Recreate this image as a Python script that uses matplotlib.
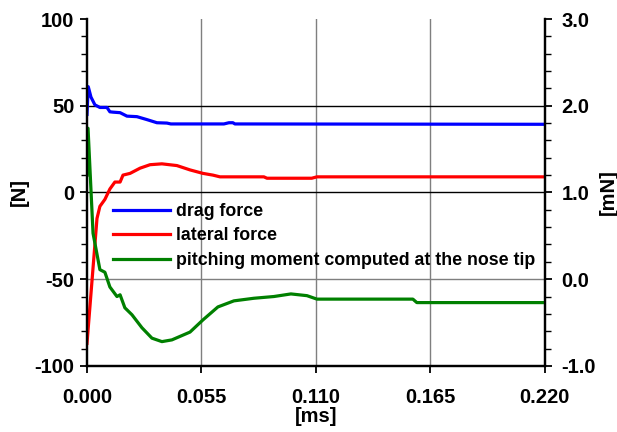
import matplotlib
matplotlib.use("Agg")
import matplotlib.pyplot as plt
from matplotlib.ticker import MultipleLocator, FormatStrFormatter

plt.rcParams['font.family'] = ['Liberation Sans', 'DejaVu Sans']
plt.rcParams['font.weight'] = 'bold'
plt.rcParams['axes.unicode_minus'] = False

# ---- data (time in ms) ----
drag_t = [0.0, 0.0006, 0.0019, 0.0038, 0.0062, 0.0096, 0.011, 0.0125, 0.0159, 0.0192,
          0.024, 0.0288, 0.0336, 0.0384, 0.0403, 0.0658, 0.0682, 0.0701, 0.0711, 0.22]
drag_v = [45, 61, 55, 50.5, 49, 49, 46.5, 46.3, 46, 44, 43.7, 42, 40.2, 40, 39.5, 39.5,
          40.2, 40.2, 39.5, 39.3]

lat_t = [0.0, 0.0048, 0.0062, 0.0086, 0.011, 0.0134, 0.0159, 0.0173, 0.0207, 0.0255,
         0.0303, 0.036, 0.0432, 0.0495, 0.0557, 0.0605, 0.0639, 0.0850, 0.0865, 0.1080,
         0.1105, 0.22]
lat_v = [-87, -15, -8, -4, 2, 6, 6, 10, 11, 14, 16, 16.5, 15.5, 13, 11, 10, 9, 9, 8.2,
         8.2, 9, 9]

pitch_t = [0.0, 0.0005, 0.0029, 0.0062, 0.0086, 0.011, 0.0144, 0.0159, 0.0182, 0.0216,
           0.0264, 0.0312, 0.036, 0.0408, 0.0495, 0.0557, 0.0629, 0.0706, 0.0802,
           0.0898, 0.0980, 0.1057, 0.1105, 0.1566, 0.1585, 0.22]
pitch_v = [1.2, 1.74, 0.53, 0.11, 0.08, -0.09, -0.2, -0.18, -0.33, -0.41, -0.56, -0.68,
           -0.72, -0.70, -0.61, -0.47, -0.32, -0.25, -0.22, -0.20, -0.17, -0.19, -0.23,
           -0.23, -0.27, -0.27]

xticks = [0.0, 0.055, 0.110, 0.165, 0.220]

fig = plt.figure(figsize=(6.17, 4.32), dpi=100)
ax = fig.add_axes([0.141, 0.153, 0.742, 0.803])
ax2 = ax.twinx()

# grid
for xv in xticks[1:4]:
    ax.axvline(xv, color='#7f7f7f', lw=1.0, zorder=0)
ax.axhline(50, color='black', lw=1.0, zorder=0)
ax.axhline(0, color='black', lw=1.0, zorder=0)
ax.axhline(-50, color='#7f7f7f', lw=1.0, zorder=0)

l1, = ax.plot(drag_t, drag_v, color='#0000ff', lw=2.3, label='drag force')
l2, = ax.plot(lat_t, lat_v, color='#ff0000', lw=2.3, label='lateral force')
l3, = ax2.plot(pitch_t, pitch_v, color='#008000', lw=2.3,
               label='pitching moment computed at the nose tip')

ax.set_xlim(0, 0.22)
ax.set_ylim(-100, 100)
ax2.set_ylim(-1.0, 3.0)

ax.set_xticks(xticks)
ax.xaxis.set_major_formatter(FormatStrFormatter('%.3f'))
ax.yaxis.set_major_locator(MultipleLocator(50))
ax.yaxis.set_minor_locator(MultipleLocator(10))
ax2.yaxis.set_major_locator(MultipleLocator(1.0))
ax2.yaxis.set_minor_locator(MultipleLocator(0.2))
ax2.yaxis.set_major_formatter(FormatStrFormatter('%.1f'))

for a in (ax, ax2):
    a.tick_params(which='major', direction='out', length=5, width=1.3, labelsize=14.5, pad=4)
    a.tick_params(which='minor', direction='out', length=4, width=1.0)
    a.spines['top'].set_visible(False)
    for s in ('left', 'right', 'bottom'):
        a.spines[s].set_linewidth(1.6)
ax.tick_params(axis='x', length=5, pad=11)
ax2.tick_params(axis='y', which='major', pad=7)

for lab in ax.get_xticklabels() + ax.get_yticklabels() + ax2.get_yticklabels():
    lab.set_fontweight('bold')

ax.set_xlabel('[ms]', fontsize=14.5, fontweight='bold', labelpad=0)
ax.set_ylabel('[N]', fontsize=14.5, fontweight='bold', labelpad=4)
ax2.set_ylabel('[mN]', fontsize=14.5, fontweight='bold', rotation=90, labelpad=2)

leg = ax2.legend(handles=[l1, l2, l3], loc='upper left', bbox_to_anchor=(0.057, 0.47),
                 frameon=False, handlelength=3.2, handletextpad=0.35,
                 labelspacing=0.42, borderaxespad=0, borderpad=0,
                 prop={'weight': 'bold', 'size': 12.8})

fig.savefig('out.png', dpi=100)
